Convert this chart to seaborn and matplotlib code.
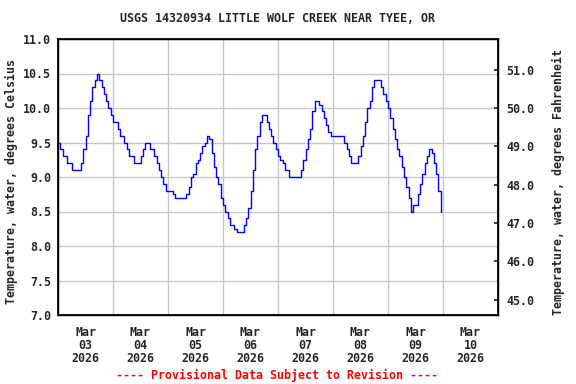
import numpy as np
import pandas as pd
import matplotlib
matplotlib.use("Agg")
import matplotlib.pyplot as plt
import matplotlib.dates as mdates
import seaborn as sns

###############################################################
# hourly water temperature (deg C)
mar03 = [9.5, 9.4, 9.3, 9.3, 9.2, 9.2, 9.1, 9.1, 9.1, 9.1, 9.2, 9.4,
         9.6, 9.9, 10.1, 10.3, 10.4, 10.5, 10.4, 10.3, 10.2, 10.1, 10.0, 9.9]
mar04 = [9.8, 9.8, 9.7, 9.6, 9.6, 9.5, 9.4, 9.3, 9.3, 9.2, 9.2, 9.2,
         9.3, 9.4, 9.5, 9.5, 9.4, 9.4, 9.3, 9.2, 9.1, 9.0, 8.9, 8.8]
mar05 = [8.8, 8.8, 8.75, 8.7, 8.7, 8.7, 8.7, 8.7, 8.75, 8.85, 9.0, 9.05,
         9.2, 9.25, 9.35, 9.45, 9.5, 9.6, 9.55, 9.35, 9.15, 9.0, 8.9, 8.7]
mar06 = [8.6, 8.5, 8.4, 8.3, 8.3, 8.25, 8.2, 8.2, 8.2, 8.3, 8.4, 8.55,
         8.8, 9.1, 9.4, 9.6, 9.8, 9.9, 9.9, 9.8, 9.7, 9.6, 9.5, 9.4]
mar07 = [9.3, 9.25, 9.2, 9.1, 9.1, 9.0, 9.0, 9.0, 9.0, 9.0, 9.1, 9.25,
         9.4, 9.55, 9.7, 9.95, 10.1, 10.1, 10.05, 9.95, 9.85, 9.75, 9.65, 9.6]
mar08 = [9.6, 9.6, 9.6, np.nan, 9.6, 9.5, 9.4, 9.3, 9.2, 9.2, 9.2, 9.3,
         9.45, 9.6, 9.8, 10.0, 10.1, 10.3, 10.4, 10.4, 10.4, 10.3, 10.2, 10.1]
mar09 = [10.0, 9.85, 9.7, 9.55, 9.4, 9.3, 9.15, 9.0, 8.85, 8.7, 8.5, 8.6,
         8.6, 8.75, 8.9, 9.05, 9.2, 9.3, 9.4, 9.35, 9.2, 9.05, 8.8, 8.5]

title = "USGS 14320934 LITTLE WOLF CREEK NEAR TYEE, OR"
ylab_c = "Temperature, water, degrees Celsius"
ylab_f = "Temperature, water, degrees Fahrenheit"
footer = "---- Provisional Data Subject to Revision ----"

###############################################################
temps = mar03 + mar04 + mar05 + mar06 + mar07 + mar08 + mar09
times = pd.date_range("2026-03-03 00:00", periods=len(temps), freq="h")
df = pd.DataFrame({"time": times, "temp": temps})

sns.set_theme(style="white")
plt.rcParams["font.family"] = ["DejaVu Sans Mono"]
plt.rcParams["font.weight"] = "bold"
fs = 8.4

fig = plt.figure(figsize=(5.76, 3.84), dpi=100)
ax = fig.add_axes([58 / 576, 1 - 315 / 384, 440 / 576, 276 / 384])

sns.lineplot(data=df, x="time", y="temp", ax=ax, color="#0000ff",
             linewidth=1.0, drawstyle="steps-post", estimator=None, sort=False)

ax.set_xlim(pd.Timestamp("2026-03-03"), pd.Timestamp("2026-03-11"))
ax.set_ylim(7.0, 11.0)
yt = np.arange(7.0, 11.01, 0.5)
ax.set_yticks(yt)
ax.set_yticklabels([f"{v:.1f}" for v in yt], fontsize=fs)

ax.xaxis.set_major_locator(mdates.DayLocator())
ax.xaxis.set_major_formatter(plt.NullFormatter())
ax.xaxis.set_minor_locator(mdates.HourLocator(byhour=[12]))
ax.xaxis.set_minor_formatter(mdates.DateFormatter("%b\n%d\n%Y"))
ax.tick_params(axis="x", which="minor", length=0, labelsize=fs, pad=8)
ax.tick_params(axis="x", which="major", length=3, direction="in")
ax.tick_params(axis="y", length=0, labelsize=fs, pad=5)
for lab in ax.get_xticklabels(minor=True):
    lab.set_linespacing(1.0)

ax.grid(True, which="major", color="#c8c8c8", linewidth=1.0)
ax.set_xlabel("")
ax.set_ylabel("")
for sp in ax.spines.values():
    sp.set_color("black")
    sp.set_linewidth(1.0)

# Fahrenheit axis
ax2 = ax.twinx()
ax2.set_ylim(7.0 * 1.8 + 32, 11.0 * 1.8 + 32)
ft = np.arange(45.0, 51.01, 1.0)
ax2.set_yticks(ft)
ax2.set_yticklabels([f"{v:.1f}" for v in ft], fontsize=fs)
ax2.tick_params(axis="y", length=3, direction="in", labelsize=fs, pad=6)
ax2.grid(False)
for sp in ax2.spines.values():
    sp.set_color("black")

fig.text(278 / 576, 1 - 19 / 384, title, ha="center", va="center",
         fontsize=fs, fontweight="bold")
fig.text(11 / 576, 1 - 182 / 384, ylab_c, ha="center", va="center",
         rotation=90, fontsize=fs, fontweight="bold")
fig.text(558 / 576, 1 - 182 / 384, ylab_f, ha="center", va="center",
         rotation=90, fontsize=fs, fontweight="bold")
fig.text(277 / 576, 1 - 375 / 384, footer, ha="center", va="center",
         fontsize=fs, fontweight="bold", color="red")

plt.savefig("out.png", dpi=100)
